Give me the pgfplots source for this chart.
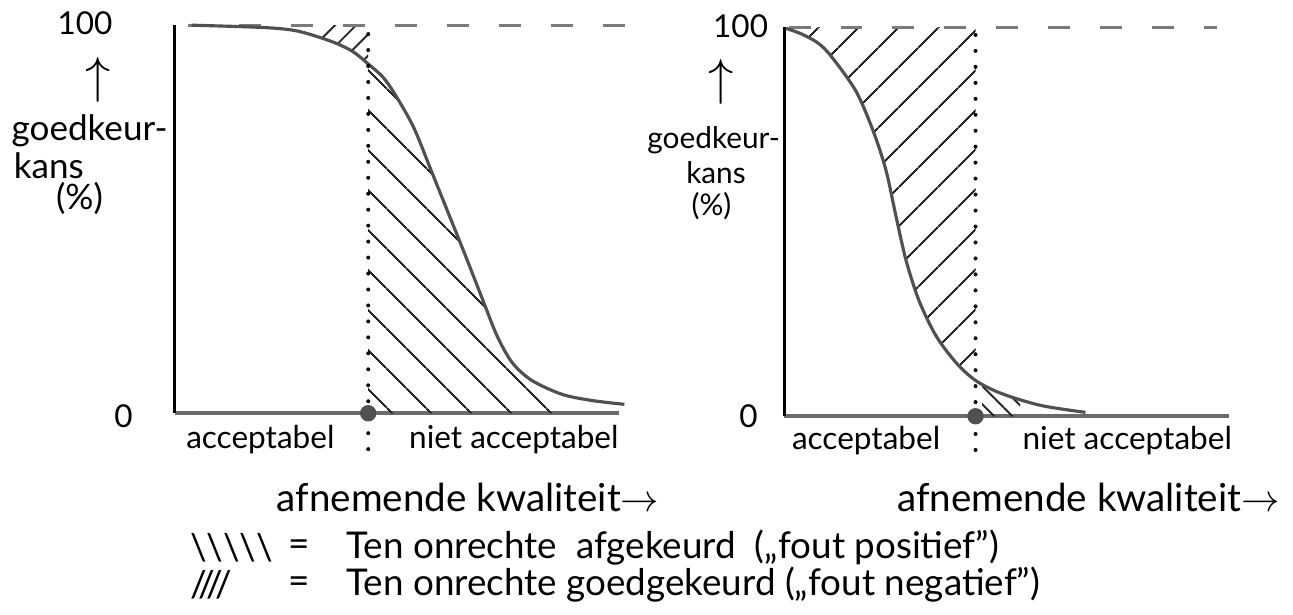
\documentclass[border=0pt]{standalone}
\usepackage{fontspec}
\setmainfont{Lato}
\usepackage{pgfplots}
\usepackage{pgfplotstable}
\pgfplotsset{compat=1.18}
\usepgfplotslibrary{fillbetween}
\usetikzlibrary{patterns.meta}

\definecolor{curve}{HTML}{505050}
\definecolor{axisgray}{HTML}{6A6A6A}
\definecolor{dashgray}{HTML}{7A7A7A}

% left chart: gradual curve
\pgfplotstableread{
x y
0.38 100
2.00 99.4
2.76 98.5
3.51 95.9
4.00 93.3
4.36 90.0
4.70 86.5
5.00 81.5
5.39 73.5
5.78 62.5
6.16 51.7
6.54 40.9
6.92 29.8
7.26 20.0
7.60 13.1
8.04 8.5
8.72 4.9
9.39 3.3
10.13 2.3
}\curveleft

% right chart: steep curve
\pgfplotstableread{
x y
0.04 99.7
0.38 98.3
0.75 96.0
1.05 92.6
1.61 83.6
2.00 73.3
2.29 63.1
2.51 51.5
2.74 40.0
3.03 29.7
3.41 20.7
3.86 13.8
4.30 9.2
4.87 5.9
5.76 2.8
6.77 1.0
}\curveright

\pgfplotsset{
  handaxis/.style={
    scale only axis,
    xmin=0, xmax=10, ymin=0, ymax=100,
    axis lines=left, axis line style={-},
    x axis line style={axisgray, line width=1.1pt},
    y axis line style={black, line width=0.9pt},
    xtick=\empty, ytick=\empty,
    clip=false,
    anchor=south west,
  },
  hatch/.style 2 args={draw=none, pattern color=black!85,
    pattern={Lines[angle=#1, distance=#2, line width=0.55pt]}},
}

\begin{document}
\begin{tikzpicture}[font=\fontsize{9}{11}\selectfont]
\path (0,0) rectangle (129.3mm,-60.6mm);

% ---------- left chart ----------
\begin{axis}[handaxis, width=44.5mm, height=38.9mm, at={(17.2mm,-41.3mm)}]
\addplot [dashgray, line width=0.9pt, dash pattern=on 2.2mm off 3mm, name path=top]
  coordinates {(0.29,100) (10.52,100)};
\addplot [draw=none, name path=base] coordinates {(0,0) (10.5,0)};
\addplot [curve, line width=0.9pt, smooth, name path=A] table {\curveleft};
\addplot [hatch={-45}{2.8mm}] fill between [of=A and base, soft clip={domain=4.36:8.8}];
\addplot [hatch={45}{1.5mm}] fill between [of=top and A, soft clip={domain=3.3:4.36}];
\addplot [black, line width=0.4mm, dash pattern=on 0pt off 1.6mm, line cap=round]
  coordinates {(4.36,97.7) (4.36,-11)};
\addplot [only marks, mark=*, mark size=0.75mm, mark options={fill=curve, draw=curve}]
  coordinates {(4.36,0)};
\node at (axis cs:-2.02,100.5) {100};
\node at (axis cs:-1.15,-0.8) {0};
\node at (axis cs:-1.73,85.8) {\Large$\uparrow$};
\begin{scope}[font=\fontsize{10}{12}\selectfont]
\node[anchor=west] at (axis cs:-3.95,72.8) {goedkeur-};
\node[anchor=west] at (axis cs:-3.9,63.8) {kans};
\node[anchor=west] at (axis cs:-2.95,55.3) {(\%)};
\end{scope}
\node at (axis cs:1.93,-6.9) {acceptabel};
\node at (axis cs:7.64,-6.9) {niet acceptabel};
\end{axis}

% ---------- right chart ----------
\begin{axis}[handaxis, width=44.6mm, height=39mm, at={(78.3mm,-41.6mm)}]
\addplot [dashgray, line width=0.9pt, dash pattern=on 2.2mm off 3mm, name path=top]
  coordinates {(0.1,100) (9.73,100)};
\addplot [draw=none, name path=base] coordinates {(0,0) (10,0)};
\addplot [curve, line width=0.9pt, smooth, name path=B] table {\curveright};
\addplot [hatch={45}{2.8mm}] fill between [of=top and B, soft clip={domain=0.3:4.3}];
\addplot [hatch={-45}{1.3mm}] fill between [of=B and base, soft clip={domain=4.45:5.3}];
\addplot [black, line width=0.4mm, dash pattern=on 0pt off 1.6mm, line cap=round]
  coordinates {(4.30,98) (4.30,-9.5)};
\addplot [only marks, mark=*, mark size=0.75mm, mark options={fill=curve, draw=curve}]
  coordinates {(4.30,0)};
\node at (axis cs:-0.98,100.3) {100};
\node at (axis cs:-0.8,0) {0};
\node at (axis cs:-1.41,86) {\Large$\uparrow$};
\begin{scope}[font=\fontsize{8.5}{10}\selectfont]
\node[anchor=east, inner sep=0pt] at (axis cs:-0.08,71.0) {goedkeur-};
\node[anchor=west] at (axis cs:-2.48,62.6) {kans};
\node[anchor=west] at (axis cs:-2.36,54.0) {(\%)};
\end{scope}
\node at (axis cs:1.84,-6.2) {acceptabel};
\node at (axis cs:7.71,-6.2) {niet acceptabel};
\end{axis}

% ---------- captions and key ----------
\begin{scope}[font=\fontsize{11}{13}\selectfont]
\node at (46.6mm,-49.7mm) {afnemende kwaliteit$\rightarrow$};
\node at (108.8mm,-49.7mm) {afnemende kwaliteit$\rightarrow$};
\end{scope}
\begin{scope}[font=\fontsize{10.5}{12}\selectfont]
\node[anchor=west] at (17.5mm,-54.8mm) {\textbackslash\textbackslash\textbackslash\textbackslash\textbackslash};
\node at (29.7mm,-54.8mm) {=};
\node[anchor=west] at (33.2mm,-54.8mm) {Ten onrechte \ afgekeurd \ („fout positief'')};
\node[anchor=west] at (17.5mm,-58.5mm) {////};
\node at (29.7mm,-58.5mm) {=};
\node[anchor=west] at (33.2mm,-58.5mm) {Ten onrechte goedgekeurd („fout negatief'')};
\end{scope}
\end{tikzpicture}
\end{document}
